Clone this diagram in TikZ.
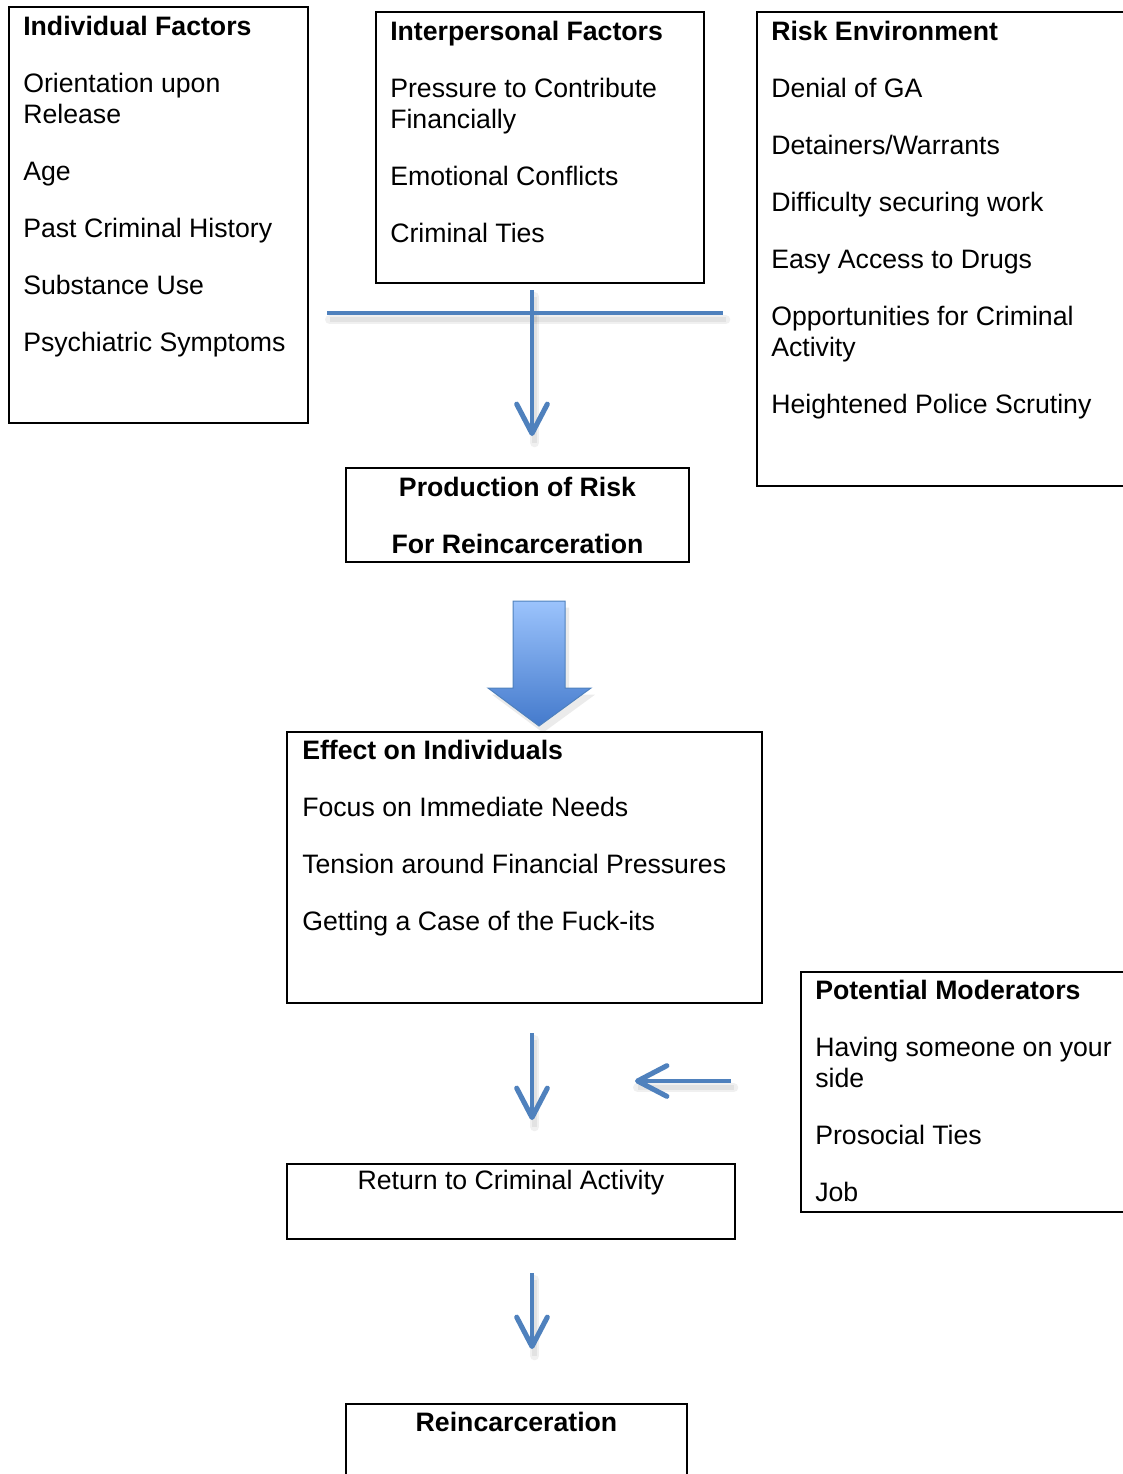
\documentclass[tikz,border=0pt]{standalone}
\usepackage{fontspec}
\setmainfont{Liberation Sans}
\usetikzlibrary{arrows.meta,fit}
\definecolor{flowblue}{RGB}{79,129,189}
\definecolor{arrowtop}{RGB}{155,195,252}
\definecolor{arrowbot}{RGB}{68,122,204}

\begin{document}
\begin{tikzpicture}[x=0.75pt, y=-0.75pt,
		box/.style = {draw, line width=1.5pt, inner sep=0pt},
		txt/.style = {anchor=north west, inner sep=0pt, align=left, font=\fontsize{20}{23.25}\selectfont},
		ctxt/.style = {anchor=north, inner sep=0pt, align=center, font=\fontsize{20}{23.25}\selectfont},
		link/.style = {draw=flowblue, line width=3.6pt},
		tip/.style = {link, -{Straight Barb[length=22pt, width=23pt, line width=3.8pt, round]}},
		shade/.style = {draw=black, opacity=0.06, line width=7pt, line cap=round, transform canvas={xshift=2pt, yshift=-5pt}},
		shadeb/.style = {draw=black, opacity=0.06, line width=4pt, transform canvas={xshift=2pt, yshift=-5pt}}]
		\useasboundingbox (0,0) rectangle (1123,1474);
		\clip (0,0) rectangle (1123,1474);
		\node[box, fit={(9,7) (308,423)}] (indiv) {};
		\node[box, fit={(376,12) (704,283)}] (inter) {};
		\node[box, fit={(757,12) (1140,486)}] (riskenv) {};
		\node[box, fit={(346,468) (689,562)}] (prod) {};
		\node[box, fit={(287,732) (762,1003)}] (effect) {};
		\node[box, fit={(801,972) (1140,1212)}] (moder) {};
		\node[box, fit={(287,1164) (735,1239)}] (ret) {};
		\node[box, fit={(346,1404) (687,1490)}] (reinc) {};
		\node[txt] (indivtxt) at (23,15.5) {\textbf{Individual Factors}\\[19.5pt] Orientation upon\\ Release\\[19.5pt] Age\\[19.5pt] Past Criminal History\\[19.5pt] Substance Use\\[19.5pt] Psychiatric Symptoms};
		\node[txt] (intertxt) at (390,20.5) {\textbf{Interpersonal Factors}\\[19.5pt] Pressure to Contribute\\ Financially\\[19.5pt] Emotional Conflicts\\[19.5pt] Criminal Ties};
		\node[txt] (risktxt) at (771,20.5) {\textbf{Risk Environment}\\[19.5pt] Denial of GA\\[19.5pt] Detainers/Warrants\\[19.5pt] Difficulty securing work\\[19.5pt] Easy Access to Drugs\\[19.5pt] Opportunities for Criminal\\ Activity\\[19.5pt] Heightened Police Scrutiny};
		\node[ctxt] (prodtxt) at (517.5,476.5) {\textbf{Production of Risk}\\[19.5pt] \textbf{For Reincarceration}};
		\node[txt] (efftxt) at (302,739.5) {\textbf{Effect on Individuals}\\[19.5pt] Focus on Immediate Needs\\[19.5pt] Tension around Financial Pressures\\[19.5pt] Getting a Case of the Fuck-its};
		\node[txt] (modtxt) at (815,979.5) {\textbf{Potential Moderators}\\[19.5pt] Having someone on your\\ side\\[19.5pt] Prosocial Ties\\[19.5pt] Job};
		\node[ctxt] (rettxt) at (511,1169.5) {Return to Criminal Activity};
		\node[ctxt] (reinctxt) at (516.5,1411.5) {\textbf{Reincarceration}};
		\coordinate (barL) at (327,313);
		\coordinate (barR) at (723,313);
		\coordinate (dropTop) at (532,290);
		\coordinate (dropEnd) at (532,436);
		\coordinate (effTop) at (532,1033);
		\coordinate (effEnd) at (532,1120);
		\coordinate (modR) at (731,1081);
		\coordinate (modEnd) at (635,1081);
		\coordinate (retTop) at (532,1273);
		\coordinate (retEnd) at (532,1349);
		\foreach \a/\b in {barL/barR, dropTop/dropEnd, effTop/effEnd, modR/modEnd, retTop/retEnd}{
			\draw[shade] (\a) -- (\b);
			\draw[shadeb] (\a) -- (\b);
		}
		\fill[black, opacity=0.08, transform canvas={xshift=3pt, yshift=-5pt}] (513,601) -- (565,601) -- (565,688) -- (591,688) -- (539,726) -- (488,688) -- (513,688) -- cycle;
		\draw[link] (barL) -- (barR);
		\draw[tip] (dropTop) -- (dropEnd);
		\draw[draw=flowblue, line width=0.75pt, top color=arrowtop, bottom color=arrowbot] (513,601) -- (565,601) -- (565,688) -- (591,688) -- (539,726) -- (488,688) -- (513,688) -- cycle;
		\draw[tip] (effTop) -- (effEnd);
		\draw[tip] (modR) -- (modEnd);
		\draw[tip] (retTop) -- (retEnd);
\end{tikzpicture}
\end{document}
